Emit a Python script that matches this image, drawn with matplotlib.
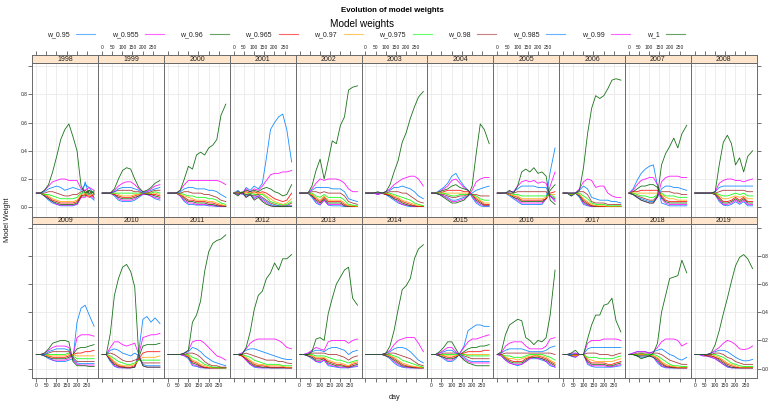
import matplotlib
matplotlib.use("Agg")
import matplotlib.pyplot as plt
from matplotlib.lines import Line2D

plt.rcParams["font.family"] = ["Liberation Sans", "DejaVu Sans"]

# ---------------------------------------------------------------- data
years = list(range(1998, 2020))
days = [1, 21, 41, 61, 81, 101, 121, 141, 161, 181, 201, 221, 241, 261, 285]
x_ticks = [0, 50, 100, 150, 200, 250]
y_ticks = [0.0, 0.2, 0.4, 0.6, 0.8, 1.0]
y_tick_labels = ["0.0", "0.2", "0.4", "0.6", "0.8", ""]
labels = ["w_0.95", "w_0.955", "w_0.96", "w_0.965", "w_0.97",
          "w_0.975", "w_0.98", "w_0.985", "w_0.99", "w_1"]
colors = ["#0080ff", "#ff00ff", "#006400", "#ff0000", "#ffa500",
          "#00ff00", "#a52a2a", "#0080ff", "#ff00ff", "#006400"]

# one row per year (1998..2019), one value per entry of `days`
w_095 = [
    [.10,.10,.08,.05,.03,.02,.01,.01,.01,.01,.02,.07,.18,.08,.05],
    [.10,.10,.10,.08,.05,.04,.04,.04,.05,.07,.09,.09,.08,.06,.05],
    [.10,.10,.10,.08,.04,.02,.02,.015,.015,.015,.01,.01,.005,.005,.005],
    [.10,.12,.09,.14,.12,.15,.13,.17,.35,.55,.60,.64,.66,.55,.32],
    [.10,.10,.10,.07,.03,.015,.05,.015,.01,.01,.01,.005,.005,.005,.005],
    [.10,.10,.10,.09,.10,.09,.07,.05,.03,.02,.01,.005,.005,.005,.005],
    [.10,.10,.12,.14,.17,.22,.24,.19,.15,.12,.07,.03,.01,.005,.005],
    [.10,.10,.10,.08,.06,.04,.02,.02,.02,.02,.02,.02,.06,.25,.42],
    [.10,.10,.08,.10,.07,.02,.01,.005,.005,.005,.005,.005,.005,.005,.005],
    [.10,.13,.19,.24,.27,.29,.30,.15,.03,.02,.01,.01,.01,.01,.01],
    [.10,.10,.10,.10,.10,.09,.04,.015,.01,.02,.04,.02,.04,.01,.01],
    [.10,.10,.09,.07,.06,.05,.05,.05,.06,.07,.33,.43,.45,.38,.30],
    [.10,.10,.05,.015,.005,.005,.005,.005,.01,.12,.35,.37,.33,.36,.32],
    [.10,.10,.10,.10,.09,.07,.02,.015,.005,.005,.005,.005,.005,.005,.005],
    [.10,.10,.09,.06,.03,.01,.005,.005,.005,.005,.005,.005,.005,.005,.005],
    [.10,.10,.09,.07,.05,.04,.06,.02,.015,.01,.005,.005,.005,.01,.015],
    [.10,.10,.10,.10,.10,.09,.07,.04,.02,.01,.005,.005,.005,.005,.005],
    [.10,.10,.09,.07,.05,.05,.07,.11,.16,.27,.29,.31,.31,.30,.30],
    [.10,.09,.06,.04,.03,.02,.03,.05,.07,.07,.07,.06,.05,.02,.01],
    [.10,.10,.09,.08,.10,.10,.03,.015,.01,.01,.01,.01,.01,.015,.02],
    [.10,.10,.09,.08,.08,.09,.08,.04,.015,.005,.005,.005,.005,.005,.005],
    [.10,.10,.09,.09,.08,.07,.05,.03,.01,.005,.005,.005,.005,.005,.005],
]
w_0955 = [
    [.10,.10,.08,.06,.04,.02,.015,.015,.015,.015,.02,.07,.07,.10,.06],
    [.10,.10,.10,.09,.06,.05,.05,.05,.06,.08,.09,.09,.08,.07,.06],
    [.10,.10,.10,.08,.05,.03,.03,.02,.02,.02,.015,.01,.01,.005,.005],
    [.10,.11,.10,.13,.11,.13,.12,.15,.19,.23,.24,.24,.25,.25,.26],
    [.10,.10,.10,.08,.04,.02,.05,.02,.02,.02,.02,.01,.005,.005,.005],
    [.10,.10,.10,.09,.10,.09,.08,.06,.04,.02,.015,.01,.005,.005,.005],
    [.10,.10,.11,.13,.15,.19,.20,.17,.14,.12,.08,.04,.02,.01,.01],
    [.10,.10,.10,.09,.07,.05,.03,.03,.03,.03,.03,.03,.06,.15,.25],
    [.10,.10,.08,.10,.08,.03,.015,.005,.005,.005,.005,.005,.005,.005,.005],
    [.10,.12,.16,.19,.20,.21,.21,.16,.06,.03,.02,.02,.02,.02,.02],
    [.10,.10,.10,.10,.10,.09,.05,.02,.02,.03,.05,.03,.05,.02,.02],
    [.10,.10,.09,.08,.06,.06,.06,.06,.07,.09,.22,.24,.24,.24,.23],
    [.10,.10,.06,.02,.01,.005,.005,.005,.01,.10,.22,.23,.24,.24,.25],
    [.10,.10,.10,.10,.09,.08,.03,.02,.01,.005,.005,.005,.005,.005,.005],
    [.10,.10,.09,.06,.03,.015,.01,.005,.005,.005,.005,.005,.005,.005,.005],
    [.10,.10,.09,.08,.05,.05,.06,.03,.02,.015,.01,.01,.005,.015,.02],
    [.10,.10,.10,.10,.10,.09,.08,.05,.03,.015,.01,.005,.005,.005,.005],
    [.10,.10,.09,.08,.06,.06,.08,.11,.15,.19,.21,.21,.22,.23,.24],
    [.10,.09,.06,.04,.03,.03,.03,.05,.07,.08,.07,.07,.05,.03,.01],
    [.10,.10,.09,.08,.10,.10,.04,.02,.02,.02,.02,.015,.015,.02,.03],
    [.10,.10,.09,.09,.09,.09,.08,.05,.02,.01,.005,.005,.005,.005,.005],
    [.10,.10,.09,.09,.08,.07,.05,.03,.015,.005,.005,.005,.005,.005,.005],
]
w_096 = [
    [.10,.10,.08,.06,.04,.03,.02,.02,.02,.02,.03,.08,.08,.12,.07],
    [.10,.10,.10,.09,.07,.06,.06,.06,.07,.08,.10,.09,.09,.08,.07],
    [.10,.10,.10,.09,.06,.04,.04,.03,.03,.03,.02,.02,.01,.01,.005],
    [.10,.11,.10,.12,.11,.12,.11,.13,.14,.13,.11,.10,.08,.09,.16],
    [.10,.10,.10,.08,.05,.03,.06,.03,.03,.03,.03,.01,.005,.005,.005],
    [.10,.10,.10,.10,.10,.09,.08,.06,.05,.03,.02,.01,.01,.005,.005],
    [.10,.10,.11,.12,.13,.15,.16,.14,.13,.12,.09,.05,.03,.015,.015],
    [.10,.10,.10,.09,.07,.06,.04,.04,.04,.04,.04,.04,.06,.12,.16],
    [.10,.10,.08,.10,.08,.04,.02,.01,.005,.005,.005,.005,.005,.005,.005],
    [.10,.11,.13,.15,.15,.16,.16,.14,.07,.04,.03,.03,.03,.03,.03],
    [.10,.10,.10,.10,.10,.09,.06,.03,.03,.04,.06,.04,.06,.03,.03],
    [.10,.10,.09,.08,.07,.07,.07,.07,.08,.10,.14,.15,.15,.16,.17],
    [.10,.10,.06,.03,.015,.01,.005,.005,.01,.08,.16,.17,.17,.17,.18],
    [.10,.10,.10,.10,.10,.08,.04,.03,.015,.005,.005,.005,.005,.005,.005],
    [.10,.10,.09,.07,.04,.02,.015,.01,.01,.005,.005,.005,.005,.005,.005],
    [.10,.10,.09,.08,.06,.06,.07,.04,.03,.02,.02,.015,.01,.02,.03],
    [.10,.10,.10,.10,.10,.09,.08,.06,.04,.02,.015,.01,.005,.005,.005],
    [.10,.10,.09,.08,.07,.07,.08,.10,.12,.14,.15,.15,.16,.16,.17],
    [.10,.10,.07,.05,.04,.04,.04,.06,.08,.08,.08,.07,.06,.04,.02],
    [.10,.10,.09,.09,.10,.10,.05,.03,.03,.03,.03,.02,.02,.03,.04],
    [.10,.10,.09,.09,.09,.09,.08,.06,.03,.015,.01,.005,.005,.005,.005],
    [.10,.10,.10,.09,.09,.08,.06,.04,.02,.01,.005,.005,.005,.005,.005],
]
w_0965 = [
    [.10,.10,.09,.07,.05,.04,.03,.03,.03,.03,.04,.08,.09,.07,.09],
    [.10,.10,.10,.09,.08,.07,.07,.07,.08,.09,.10,.10,.09,.09,.08],
    [.10,.10,.10,.09,.07,.05,.05,.04,.04,.04,.03,.03,.02,.01,.01],
    [.10,.10,.10,.11,.10,.11,.10,.11,.10,.08,.06,.05,.04,.05,.10],
    [.10,.10,.10,.09,.06,.04,.07,.04,.04,.04,.04,.02,.01,.005,.005],
    [.10,.10,.10,.10,.10,.09,.09,.07,.06,.04,.03,.02,.01,.005,.005],
    [.10,.10,.10,.11,.12,.12,.12,.12,.11,.11,.09,.06,.04,.02,.02],
    [.10,.10,.10,.09,.08,.07,.05,.05,.05,.05,.05,.05,.06,.10,.11],
    [.10,.10,.09,.10,.09,.05,.03,.01,.01,.005,.005,.005,.005,.005,.005],
    [.10,.11,.11,.12,.12,.12,.12,.12,.08,.05,.04,.04,.04,.04,.04],
    [.10,.10,.10,.10,.10,.10,.07,.04,.04,.05,.07,.05,.07,.04,.04],
    [.10,.10,.10,.09,.08,.08,.08,.08,.09,.10,.11,.11,.12,.12,.13],
    [.10,.10,.07,.04,.02,.015,.01,.01,.02,.07,.11,.12,.12,.12,.12],
    [.10,.10,.10,.10,.10,.09,.05,.04,.02,.01,.005,.005,.005,.005,.005],
    [.10,.10,.09,.07,.05,.03,.02,.02,.015,.01,.01,.01,.01,.005,.005],
    [.10,.10,.10,.09,.07,.07,.07,.05,.04,.03,.03,.02,.015,.03,.04],
    [.10,.10,.10,.10,.10,.10,.09,.07,.05,.03,.02,.015,.01,.005,.005],
    [.10,.10,.10,.09,.08,.08,.09,.10,.11,.12,.12,.12,.12,.13,.13],
    [.10,.10,.08,.06,.05,.05,.05,.07,.08,.09,.09,.08,.07,.05,.03],
    [.10,.10,.10,.09,.10,.10,.06,.04,.04,.04,.04,.03,.03,.04,.05],
    [.10,.10,.10,.10,.10,.10,.09,.07,.04,.02,.015,.01,.005,.005,.005],
    [.10,.10,.10,.09,.09,.08,.07,.05,.03,.02,.01,.005,.005,.005,.005],
]
w_097 = [
    [.10,.10,.09,.08,.06,.05,.04,.04,.04,.04,.05,.09,.10,.08,.10],
    [.10,.10,.10,.10,.09,.08,.08,.08,.09,.09,.10,.10,.10,.10,.09],
    [.10,.10,.10,.09,.08,.07,.06,.05,.05,.05,.04,.04,.03,.02,.01],
    [.10,.10,.10,.10,.10,.10,.10,.10,.08,.06,.04,.03,.02,.03,.06],
    [.10,.10,.10,.09,.07,.05,.08,.05,.05,.05,.05,.03,.01,.01,.005],
    [.10,.10,.10,.10,.10,.10,.09,.08,.07,.05,.04,.03,.02,.01,.01],
    [.10,.10,.10,.10,.10,.10,.10,.10,.10,.10,.09,.07,.05,.03,.03],
    [.10,.10,.10,.09,.08,.08,.06,.06,.06,.06,.06,.06,.07,.09,.09],
    [.10,.10,.09,.10,.09,.06,.04,.02,.01,.01,.01,.005,.005,.005,.005],
    [.10,.10,.10,.10,.10,.10,.10,.10,.09,.07,.06,.06,.05,.05,.05],
    [.10,.10,.10,.10,.10,.10,.08,.06,.06,.07,.08,.07,.08,.06,.06],
    [.10,.10,.10,.09,.09,.09,.09,.09,.10,.10,.09,.09,.09,.09,.09],
    [.10,.10,.08,.05,.03,.02,.02,.02,.03,.06,.08,.08,.08,.08,.09],
    [.10,.10,.10,.10,.10,.09,.06,.05,.03,.02,.01,.005,.005,.005,.005],
    [.10,.10,.10,.08,.06,.04,.03,.03,.02,.02,.02,.02,.015,.01,.01],
    [.10,.10,.10,.09,.08,.08,.08,.06,.05,.04,.04,.03,.02,.04,.05],
    [.10,.10,.10,.10,.10,.10,.09,.08,.06,.04,.03,.02,.015,.01,.005],
    [.10,.10,.10,.09,.09,.09,.09,.10,.10,.10,.10,.10,.10,.10,.10],
    [.10,.10,.08,.07,.07,.06,.07,.08,.09,.09,.09,.09,.08,.06,.04],
    [.10,.10,.10,.09,.10,.10,.07,.06,.05,.05,.05,.05,.05,.06,.07],
    [.10,.10,.10,.10,.10,.10,.09,.08,.05,.03,.02,.015,.01,.01,.01],
    [.10,.10,.10,.10,.10,.09,.08,.06,.04,.03,.02,.01,.01,.01,.01],
]
w_0975 = [
    [.10,.10,.09,.09,.08,.07,.06,.06,.06,.06,.07,.10,.11,.09,.12],
    [.10,.10,.10,.10,.10,.10,.10,.10,.10,.10,.10,.10,.10,.11,.10],
    [.10,.10,.10,.10,.09,.08,.08,.07,.07,.07,.06,.06,.05,.03,.02],
    [.10,.10,.10,.09,.10,.09,.09,.09,.07,.04,.03,.02,.015,.02,.04],
    [.10,.10,.10,.10,.08,.07,.09,.07,.07,.07,.07,.05,.02,.015,.01],
    [.10,.10,.10,.10,.10,.10,.10,.09,.08,.07,.06,.05,.03,.02,.01],
    [.10,.10,.10,.10,.09,.08,.08,.09,.09,.09,.09,.08,.06,.05,.05],
    [.10,.10,.10,.10,.09,.09,.08,.08,.08,.08,.08,.08,.08,.09,.07],
    [.10,.10,.09,.10,.10,.08,.06,.03,.02,.02,.02,.01,.01,.01,.01],
    [.10,.10,.09,.08,.08,.07,.07,.09,.10,.08,.08,.08,.07,.07,.07],
    [.10,.10,.10,.10,.10,.10,.09,.08,.08,.09,.10,.09,.10,.08,.08],
    [.10,.10,.10,.10,.10,.10,.10,.10,.11,.09,.07,.07,.07,.07,.07],
    [.10,.10,.09,.07,.05,.04,.03,.03,.04,.06,.06,.06,.06,.06,.06],
    [.10,.10,.10,.10,.10,.10,.08,.07,.05,.03,.02,.01,.01,.005,.005],
    [.10,.10,.10,.09,.08,.06,.05,.04,.03,.03,.03,.03,.02,.02,.02],
    [.10,.10,.10,.10,.09,.09,.09,.08,.07,.06,.06,.05,.04,.05,.06],
    [.10,.10,.10,.10,.10,.10,.10,.09,.08,.06,.05,.04,.03,.02,.01],
    [.10,.10,.10,.10,.10,.10,.10,.10,.10,.09,.09,.09,.09,.09,.09],
    [.10,.10,.09,.09,.08,.08,.08,.09,.10,.10,.10,.10,.09,.08,.06],
    [.10,.10,.10,.10,.10,.10,.08,.08,.08,.07,.07,.07,.07,.08,.09],
    [.10,.10,.10,.11,.10,.10,.10,.09,.07,.05,.03,.02,.02,.015,.015],
    [.10,.10,.10,.10,.10,.10,.09,.08,.06,.04,.03,.02,.015,.015,.015],
]
w_098 = [
    [.10,.10,.10,.11,.11,.10,.09,.08,.08,.09,.09,.11,.12,.10,.11],
    [.10,.10,.10,.11,.12,.12,.12,.12,.11,.11,.10,.10,.11,.12,.12],
    [.10,.10,.10,.10,.11,.11,.10,.10,.10,.09,.09,.08,.07,.05,.04],
    [.10,.10,.10,.09,.09,.08,.09,.07,.05,.03,.02,.01,.01,.01,.03],
    [.10,.10,.10,.11,.11,.10,.11,.10,.10,.10,.10,.08,.04,.03,.02],
    [.10,.10,.10,.10,.10,.10,.11,.11,.11,.10,.10,.08,.06,.04,.03],
    [.10,.10,.09,.09,.08,.07,.07,.08,.08,.09,.09,.09,.08,.08,.08],
    [.10,.10,.10,.10,.10,.11,.11,.11,.11,.11,.11,.11,.11,.08,.06],
    [.10,.10,.10,.10,.11,.11,.09,.04,.03,.03,.03,.02,.02,.02,.02],
    [.10,.09,.08,.07,.06,.05,.05,.08,.11,.11,.11,.10,.10,.09,.09],
    [.10,.10,.10,.10,.10,.10,.11,.12,.12,.12,.12,.12,.12,.11,.11],
    [.10,.10,.10,.11,.12,.12,.12,.12,.12,.08,.05,.05,.05,.05,.05],
    [.10,.10,.11,.10,.08,.06,.05,.05,.06,.07,.04,.04,.04,.04,.04],
    [.10,.10,.10,.10,.10,.11,.11,.10,.08,.05,.03,.02,.02,.01,.01],
    [.10,.10,.10,.11,.10,.09,.08,.07,.06,.06,.06,.05,.05,.04,.035],
    [.10,.10,.10,.11,.11,.11,.11,.10,.10,.10,.09,.08,.06,.08,.09],
    [.10,.10,.10,.10,.10,.10,.11,.11,.10,.09,.08,.07,.05,.03,.02],
    [.10,.10,.10,.11,.11,.11,.11,.10,.09,.08,.07,.07,.07,.07,.07],
    [.10,.10,.11,.11,.11,.11,.11,.11,.11,.11,.11,.11,.11,.11,.10],
    [.10,.10,.10,.10,.10,.10,.11,.11,.11,.10,.10,.10,.09,.10,.11],
    [.10,.10,.11,.11,.11,.11,.11,.11,.10,.08,.06,.05,.04,.03,.03],
    [.10,.10,.10,.10,.10,.11,.11,.10,.08,.07,.05,.04,.03,.03,.03],
]
w_0985 = [
    [.10,.10,.11,.13,.14,.15,.14,.12,.13,.14,.13,.12,.16,.14,.09],
    [.10,.10,.10,.11,.13,.14,.14,.14,.13,.12,.10,.11,.12,.13,.14],
    [.10,.10,.10,.11,.13,.14,.14,.13,.13,.13,.12,.12,.11,.09,.07],
    [.10,.09,.10,.08,.09,.07,.08,.06,.04,.02,.01,.01,.005,.01,.01],
    [.10,.10,.10,.12,.14,.14,.14,.14,.13,.13,.13,.11,.06,.05,.04],
    [.10,.10,.10,.10,.10,.11,.12,.14,.14,.15,.14,.13,.11,.08,.06],
    [.10,.10,.09,.08,.07,.05,.05,.06,.07,.08,.10,.12,.13,.14,.15],
    [.10,.10,.10,.11,.11,.13,.15,.15,.15,.15,.14,.14,.14,.08,.05],
    [.10,.10,.10,.10,.12,.15,.13,.07,.06,.05,.05,.05,.04,.04,.03],
    [.10,.09,.07,.06,.05,.04,.04,.07,.13,.15,.15,.14,.14,.13,.12],
    [.10,.10,.10,.10,.10,.11,.14,.15,.15,.15,.15,.15,.15,.15,.15],
    [.10,.10,.10,.12,.13,.14,.14,.14,.13,.07,.04,.035,.035,.035,.035],
    [.10,.10,.13,.14,.13,.11,.10,.09,.11,.09,.03,.02,.02,.02,.02],
    [.10,.10,.10,.10,.11,.12,.15,.14,.12,.09,.07,.05,.04,.03,.02],
    [.10,.10,.11,.13,.14,.14,.13,.12,.11,.10,.09,.08,.07,.065,.065],
    [.10,.10,.11,.12,.13,.13,.12,.14,.15,.15,.14,.13,.10,.12,.13],
    [.10,.10,.10,.10,.10,.11,.12,.14,.15,.15,.14,.12,.09,.06,.04],
    [.10,.10,.11,.12,.13,.13,.11,.10,.08,.06,.05,.05,.05,.05,.05],
    [.10,.11,.13,.14,.14,.14,.14,.13,.12,.12,.12,.12,.13,.15,.16],
    [.10,.10,.10,.11,.10,.10,.14,.15,.15,.15,.15,.15,.15,.15,.15],
    [.10,.11,.12,.12,.12,.11,.12,.13,.14,.12,.10,.09,.07,.06,.08],
    [.10,.10,.10,.10,.11,.12,.13,.13,.12,.10,.08,.065,.055,.055,.065],
]
w_099 = [
    [.10,.10,.12,.15,.18,.19,.20,.20,.19,.19,.19,.13,.12,.14,.12],
    [.10,.10,.10,.12,.15,.17,.18,.18,.16,.13,.11,.11,.13,.15,.16],
    [.10,.10,.10,.12,.16,.19,.19,.19,.19,.19,.19,.19,.19,.18,.16],
    [.10,.09,.10,.07,.09,.06,.08,.05,.03,.01,.005,.005,.005,.005,.01],
    [.10,.10,.10,.13,.17,.20,.19,.20,.20,.20,.19,.17,.13,.11,.11],
    [.10,.10,.10,.10,.10,.11,.13,.16,.18,.20,.21,.22,.22,.20,.15],
    [.10,.10,.09,.08,.06,.04,.04,.05,.06,.08,.12,.18,.20,.21,.21],
    [.10,.10,.10,.11,.11,.15,.18,.19,.18,.19,.17,.18,.17,.08,.04],
    [.10,.10,.10,.10,.13,.18,.20,.19,.14,.15,.15,.10,.08,.07,.07],
    [.10,.09,.07,.05,.04,.03,.03,.07,.18,.21,.22,.22,.22,.21,.21],
    [.10,.10,.10,.10,.10,.11,.17,.19,.20,.20,.19,.19,.18,.19,.20],
    [.10,.10,.11,.13,.15,.16,.16,.16,.15,.06,.03,.025,.025,.025,.025],
    [.10,.10,.15,.19,.19,.17,.16,.17,.18,.10,.02,.01,.01,.01,.01],
    [.10,.10,.10,.10,.11,.13,.19,.20,.20,.18,.15,.12,.09,.08,.06],
    [.10,.10,.11,.14,.18,.20,.21,.21,.21,.21,.21,.20,.18,.15,.14],
    [.10,.10,.11,.13,.15,.14,.13,.19,.20,.20,.20,.20,.18,.20,.21],
    [.10,.10,.10,.10,.10,.11,.13,.17,.20,.21,.22,.22,.22,.18,.12],
    [.10,.10,.11,.13,.15,.15,.12,.09,.07,.05,.04,.04,.04,.04,.04],
    [.10,.11,.16,.18,.19,.19,.19,.16,.14,.14,.14,.14,.16,.21,.22],
    [.10,.10,.11,.11,.10,.10,.18,.20,.20,.20,.21,.21,.21,.21,.20],
    [.10,.11,.12,.12,.12,.11,.12,.15,.19,.21,.21,.21,.20,.16,.18],
    [.10,.10,.10,.10,.11,.13,.15,.18,.20,.19,.17,.14,.135,.14,.16],
]
w_1 = [
    [.10,.10,.12,.16,.25,.36,.48,.55,.59,.50,.40,.15,.10,.12,.10],
    [.10,.10,.10,.13,.20,.26,.28,.27,.20,.14,.11,.12,.14,.17,.19],
    [.10,.10,.10,.12,.20,.29,.27,.37,.39,.37,.42,.44,.48,.65,.73],
    [.10,.08,.11,.07,.09,.05,.07,.04,.02,.01,.005,.005,.005,.005,.005],
    [.10,.10,.10,.15,.26,.34,.20,.33,.47,.45,.58,.64,.83,.85,.86],
    [.10,.10,.10,.11,.10,.11,.16,.25,.33,.46,.53,.63,.71,.78,.82],
    [.10,.10,.09,.07,.05,.03,.03,.04,.05,.08,.15,.38,.59,.55,.45],
    [.10,.10,.10,.12,.10,.15,.25,.27,.25,.28,.24,.25,.22,.05,.02],
    [.10,.10,.10,.10,.12,.28,.52,.70,.79,.77,.79,.84,.90,.91,.90],
    [.10,.09,.07,.05,.04,.03,.03,.08,.30,.38,.43,.49,.42,.52,.58],
    [.10,.10,.10,.10,.10,.11,.30,.46,.51,.45,.30,.35,.25,.36,.40],
    [.10,.10,.11,.14,.18,.19,.20,.20,.19,.05,.02,.02,.02,.015,.015],
    [.10,.10,.25,.52,.64,.72,.74,.69,.58,.09,.02,.01,.01,.01,.01],
    [.10,.10,.10,.10,.11,.13,.33,.38,.48,.69,.83,.89,.91,.92,.95],
    [.10,.10,.10,.15,.26,.42,.52,.55,.64,.68,.75,.70,.78,.78,.81],
    [.10,.10,.10,.12,.21,.22,.20,.39,.50,.60,.65,.70,.72,.50,.45],
    [.10,.10,.10,.10,.10,.11,.16,.27,.42,.56,.59,.64,.78,.85,.88],
    [.10,.10,.12,.15,.19,.19,.14,.09,.06,.04,.03,.02,.02,.02,.02],
    [.10,.12,.24,.31,.33,.35,.34,.22,.20,.17,.20,.19,.22,.38,.70],
    [.10,.10,.11,.13,.10,.10,.21,.31,.38,.38,.45,.46,.50,.34,.26],
    [.10,.10,.09,.07,.08,.09,.11,.18,.40,.52,.64,.65,.66,.77,.68],
    [.10,.10,.10,.10,.11,.17,.27,.39,.50,.62,.73,.79,.81,.78,.71],
]

series = [w_095, w_0955, w_096, w_0965, w_097,
          w_0975, w_098, w_0985, w_099, w_1]

# ---------------------------------------------------------------- layout
W, H = 770.0, 401.0
fig = plt.figure(figsize=(W / 100, H / 100), dpi=100)

panel_left = 32.3
panel_w = 65.85
n_cols = 11
row_geom = [(55.0, 62.5, 216.7), (216.7, 224.3, 378.0)]  # strip top, panel top, panel bottom
xlim = (-18.9, 304.9)
ylim = (-0.067, 1.025)
frame_col = "#6a6a6a"
tick_col = "#3a3a3a"
tick_kw = dict(direction="out", length=2.8, width=0.5, color=tick_col,
               labelcolor="#222222", labelsize=3.5, pad=0.8)

for i, year in enumerate(years):
    r, c = divmod(i, n_cols)
    s_top, p_top, p_bot = row_geom[r]
    x0 = panel_left + c * panel_w

    ax = fig.add_axes([x0 / W, 1 - p_bot / H, panel_w / W, (p_bot - p_top) / H])
    for vals, col in zip(series, colors):
        ax.plot(days, vals[i], color=col, lw=0.6, alpha=0.9, solid_joinstyle="round")
    ax.set_xlim(xlim)
    ax.set_ylim(ylim)
    ax.set_xticks(x_ticks)
    ax.set_xticklabels([str(t) for t in x_ticks])
    ax.set_yticks(y_ticks)
    ax.set_yticklabels(y_tick_labels)
    ax.grid(True, color="#e6e6e6", lw=0.5)
    ax.set_axisbelow(True)
    for sp in ax.spines.values():
        sp.set_color(frame_col)
        sp.set_linewidth(0.7)
    ax.tick_params(axis="both", **tick_kw)
    ax.tick_params(axis="x", top=False, labeltop=False,
                   bottom=(r == 1), labelbottom=(r == 1 and c % 2 == 0))
    ax.tick_params(axis="y", left=(c == 0), labelleft=(c == 0 and r == 0),
                   right=(c == n_cols - 1), labelright=(c == n_cols - 1 and r == 1))

    # strip with the year; the top row carries the upper day axis above it
    sx = fig.add_axes([x0 / W, 1 - p_top / H, panel_w / W, (p_top - s_top) / H])
    sx.set_facecolor("#ffe5cc")
    sx.set_xlim(xlim)
    sx.set_yticks([])
    if r == 0:
        sx.set_xticks(x_ticks)
        sx.set_xticklabels([str(t) for t in x_ticks])
        sx.tick_params(axis="x", **tick_kw)
        sx.tick_params(axis="x", bottom=False, labelbottom=False,
                       top=True, labeltop=(c % 2 == 1))
    else:
        sx.set_xticks([])
    for sp in sx.spines.values():
        sp.set_color(frame_col)
        sp.set_linewidth(0.7)
    sx.text(0.5, 0.45, str(year), ha="center", va="center", fontsize=5,
            color="#222222", transform=sx.transAxes)

# titles and axis labels
fig.text(392 / W, 1 - 10 / H, "Evolution of model weights", ha="center", va="center",
         fontsize=5.7, fontweight="bold")
fig.text(362 / W, 1 - 24.3 / H, "Model weights", ha="center", va="center", fontsize=7.2)
fig.text(8 / W, 1 - 220 / H, "Model Weight", rotation=90, ha="center", va="center",
         fontsize=5.3, color="#222222")
fig.text(394.5 / W, 1 - 397.7 / H, "day", ha="center", va="center",
         fontsize=5.3, color="#222222")

# key: label followed by a short line sample, laid out in one row
fig.canvas.draw()
renderer = fig.canvas.get_renderer()
key_y = 1 - 34.3 / H
gap_text_line, line_len, col_gap = 7.0, 19.0, 16.3
txts = [fig.text(0, key_y, lab, fontsize=5, va="center", ha="left", color="#222222")
        for lab in labels]
tw = [t.get_window_extent(renderer).width for t in txts]
total = sum(tw) + len(labels) * (gap_text_line + line_len) + (len(labels) - 1) * col_gap
x = 366 - total / 2
for t, w, col in zip(txts, tw, colors):
    t.set_x(x / W)
    lx = x + w + gap_text_line
    fig.add_artist(Line2D([lx / W, (lx + line_len) / W], [key_y, key_y],
                          transform=fig.transFigure, color=col, lw=0.8, alpha=0.6))
    x = lx + line_len + col_gap

fig.savefig("out.png", dpi=100)
